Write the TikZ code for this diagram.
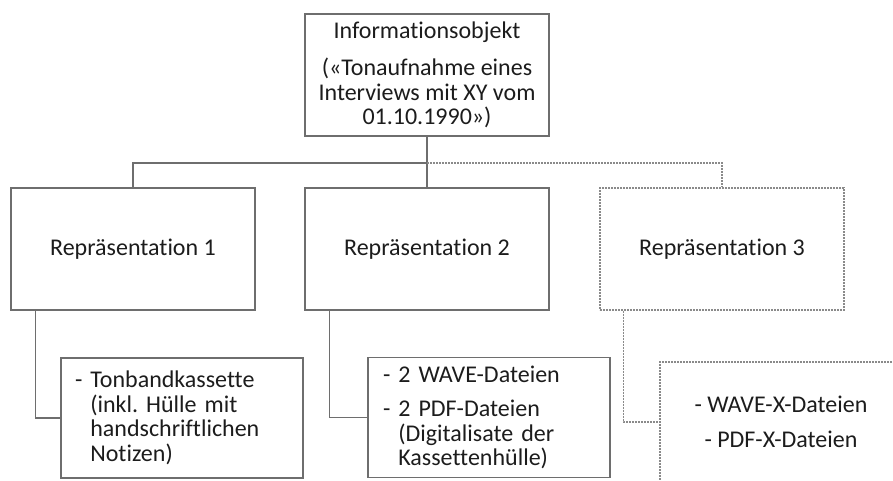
\documentclass[tikz,border=0pt]{standalone}
\usepackage{fontspec}
\setmainfont{Carlito}[Ligatures=NoCommon]
\frenchspacing
\definecolor{linegray}{HTML}{6E6E6E}
\definecolor{dotgray}{HTML}{8A8A8A}
\definecolor{textgray}{HTML}{1C1C1C}

\begin{document}
\begin{tikzpicture}[x=1pt, y=-1pt, auto, node distance=174pt,
  font=\fontsize{24}{24.5}\selectfont, text=textgray]

% Styles
\tikzstyle{box}    = [draw=linegray, line width=1.2pt, rectangle, inner sep=0pt, minimum width=244pt, minimum height=122pt]
\tikzstyle{opt}    = [box, draw=dotgray, line width=1.4pt, dash pattern=on 1.8pt off 1.2pt]
\tikzstyle{item}   = [draw=linegray, line width=1.2pt, rectangle, inner xsep=14pt, inner ysep=0pt, minimum height=120pt, align=left]
\tikzstyle{link}   = [draw=linegray, line width=1.2pt]
\tikzstyle{optlink}= [link, draw=dotgray, line width=1.4pt, dash pattern=on 1.8pt off 1.2pt]

\useasboundingbox (0,0) rectangle (893,480);

% Nodes
\node [box, align=center] (info) at (427,75)
  {Informationsobjekt\\[13pt](«Tonaufnahme eines\\Interviews mit XY vom\\01.10.1990»)};
\node [box, below of=info] (rep2) {Repräsentation 2};
\node [box, left of=rep2, node distance=294pt] (rep1) {Repräsentation 1};
\node [opt, right of=rep2, node distance=295pt] (rep3) {Repräsentation 3};

\node [item, text width=214pt] (sub1) at (182,418)
  {-~Tonbandkassette\\\phantom{-~}(inkl. Hülle mit\\\phantom{-~}handschriftlichen\\\phantom{-~}Notizen)};
\node [item, text width=212pt, inner xsep=15pt] (sub2) at (489,417.5)
  {-~2 WAVE-Dateien\\[10pt]-~2 PDF-Dateien\\\phantom{-~}(Digitalisate der\\\phantom{-~}Kassettenhülle)};
\node [opt, align=center, minimum width=242pt, minimum height=120pt] (sub3) at (781,422)
  {-~WAVE-X-Dateien\\[10pt]-~PDF-X-Dateien};

% Junction
\coordinate (j) at (427,163);

% Tree
\draw [link] (info) -- (rep2);
\draw [link] (j) -| (rep1);
\draw [optlink] (j) -| (rep3);

% Contents
\draw [link] ([xshift=25pt]rep1.south west) |- (sub1.west);
\draw [link] ([xshift=25pt]rep2.south west) |- (sub2.west);
\draw [optlink] ([xshift=24pt]rep3.south west) |- (sub3.west);

\end{tikzpicture}
\end{document}
